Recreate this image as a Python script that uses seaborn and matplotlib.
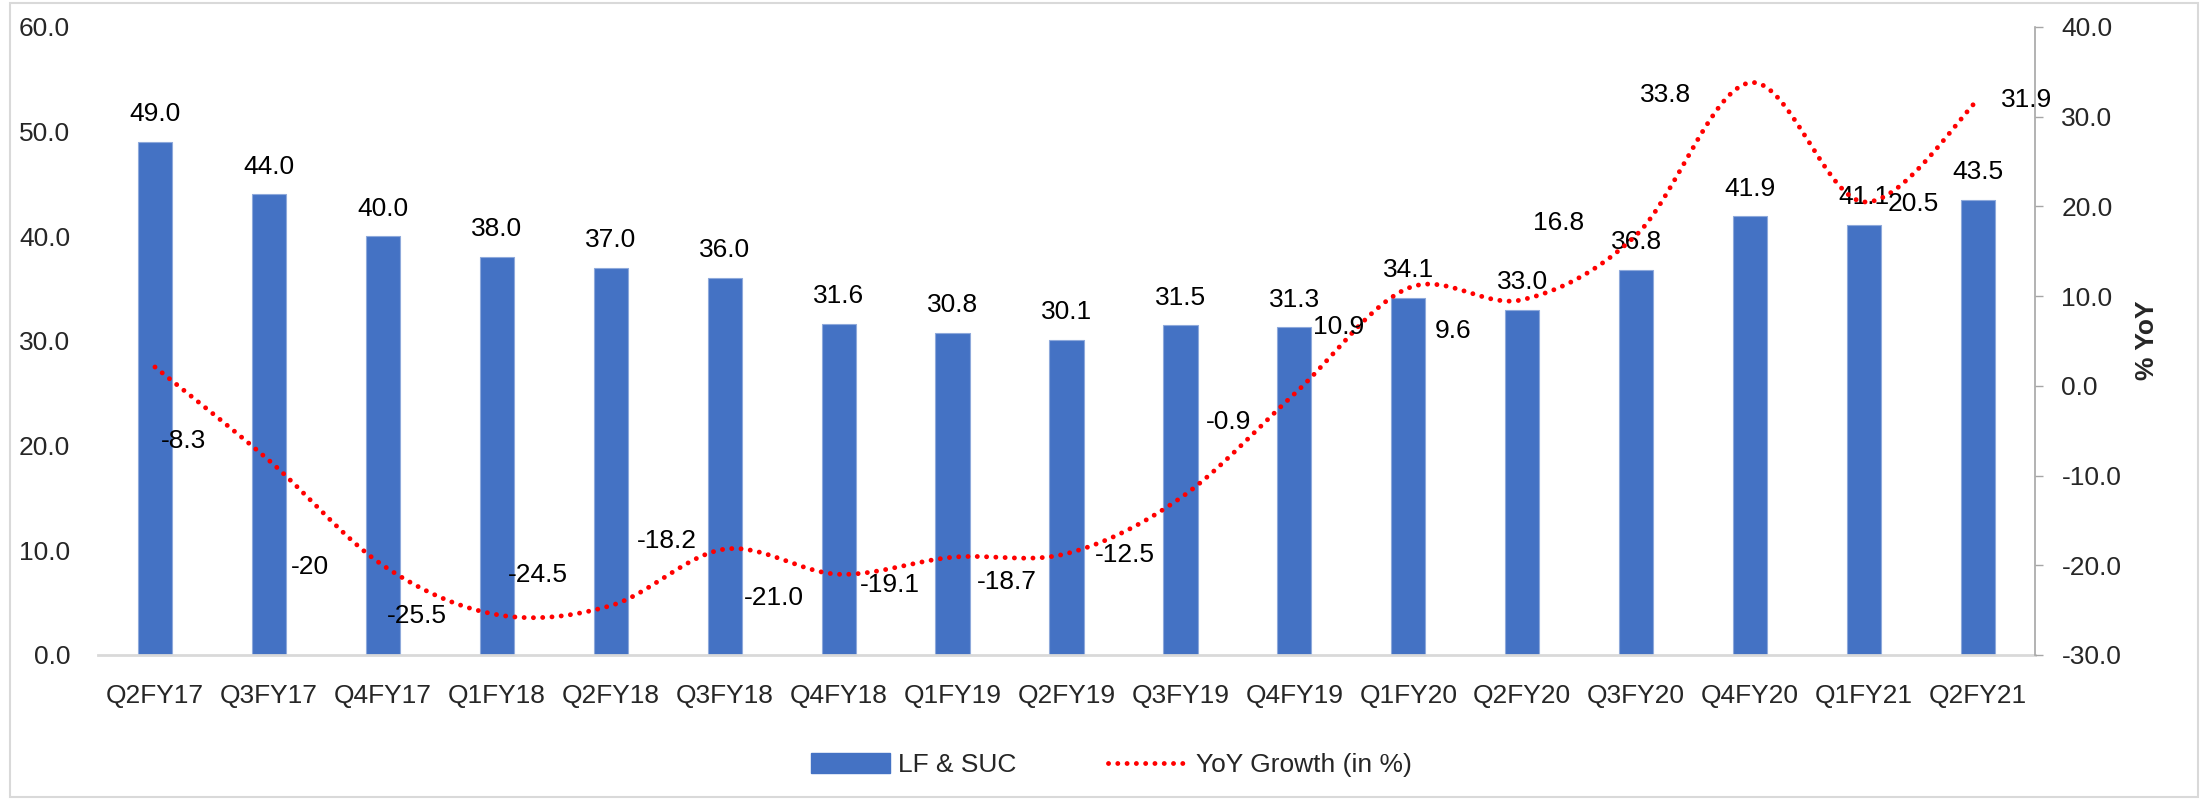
import numpy as np
import pandas as pd
import matplotlib
matplotlib.use("Agg")
import matplotlib.pyplot as plt
import seaborn as sns
from matplotlib.lines import Line2D
from matplotlib.patches import Patch, Rectangle

# ---- data ----
quarters = ["Q2FY17", "Q3FY17", "Q4FY17", "Q1FY18", "Q2FY18", "Q3FY18", "Q4FY18",
            "Q1FY19", "Q2FY19", "Q3FY19", "Q4FY19", "Q1FY20", "Q2FY20", "Q3FY20",
            "Q4FY20", "Q1FY21", "Q2FY21"]
lf_suc = [49.0, 44.0, 40.0, 38.0, 37.0, 36.0, 31.6, 30.8, 30.1, 31.5, 31.3,
          34.1, 33.0, 36.8, 41.9, 41.1, 43.5]
yoy = [2.1, -8.3, -20.0, -25.5, -24.5, -18.2, -21.0, -19.1, -18.7, -12.5, -0.9,
       10.9, 9.6, 16.8, 33.8, 20.5, 31.9]
yoy_labels = [None, "-8.3", "-20", "-25.5", "-24.5", "-18.2", "-21.0", "-19.1",
              "-18.7", "-12.5", "-0.9", "10.9", "9.6", "16.8", "33.8", "20.5", "31.9"]
left_ticks = [0, 10, 20, 30, 40, 50, 60]
right_ticks = [-30, -20, -10, 0, 10, 20, 30, 40]

# label placement offsets (category units, % units) relative to each point
label_offsets = [(0, 0), (-0.75, 2.1), (-0.64, -0.2), (-0.70, -0.2), (-0.64, 3.4),
                 (-0.51, 0.9), (-0.57, -2.6), (-0.55, -3.1), (-0.52, -3.2),
                 (-0.49, -6.3), (-0.58, -3.1), (-0.61, -4.3), (-0.61, -3.5),
                 (-0.68, 1.4), (-0.74, -1.4), (0.43, -0.2), (0.43, 0.0)]

BAR = "#4472C4"
RED = "#FF0000"

sns.set_style("white")
plt.rcParams["font.family"] = ["Liberation Sans Narrow", "Liberation Sans", "DejaVu Sans"]
FS = 19

fig = plt.figure(figsize=(22.08, 7.99), dpi=100)
ax = fig.add_axes([98 / 2208, 1 - 655 / 799, (2035 - 98) / 2208, (655 - 27) / 799])

df = pd.DataFrame({"q": quarters, "v": lf_suc})
sns.barplot(data=df, x="q", y="v", color=BAR, saturation=1, width=0.3, ax=ax,
            edgecolor="#8EA9DB", linewidth=0.8)
ax.set_xlim(-0.5, len(quarters) - 0.5)
ax.set_ylim(0, 60)
ax.set_yticks(left_ticks)
ax.set_yticklabels([f"{t:.1f}" for t in left_ticks])
ax.set_xlabel("")
ax.set_ylabel("")
ax.tick_params(axis="x", length=0, pad=21, labelsize=FS)
ax.tick_params(axis="y", length=0, pad=20, labelsize=FS)
for s in ["top", "left", "right"]:
    ax.spines[s].set_visible(False)
ax.spines["bottom"].set_color("#D9D9D9")
ax.spines["bottom"].set_linewidth(2)

for i, v in enumerate(lf_suc):
    ax.annotate(f"{v:.1f}", (i, v), xytext=(0, 20), textcoords="offset points",
                ha="center", va="center", fontsize=FS, color="black")

# ---- secondary axis with smoothed dotted line ----
ax2 = ax.twinx()
ax2.set_ylim(-30, 40)
ax2.set_yticks(right_ticks)
ax2.set_yticklabels([f"{t:.1f}" for t in right_ticks])
ax2.tick_params(axis="y", length=6, width=1, color="#A6A6A6", pad=13, labelsize=FS)
for s in ["top", "left", "bottom"]:
    ax2.spines[s].set_visible(False)
ax2.spines["right"].set_color("#A6A6A6")
ax2.spines["right"].set_linewidth(1.2)


def smooth(xs, ys, n=40):
    xs = np.asarray(xs, float)
    ys = np.asarray(ys, float)
    P = np.column_stack([xs, ys])
    P = np.vstack([P[0], P, P[-1]])
    out = []
    for k in range(1, len(P) - 2):
        p0, p1, p2, p3 = P[k - 1], P[k], P[k + 1], P[k + 2]
        c1 = p1 + (p2 - p0) / 6
        c2 = p2 - (p3 - p1) / 6
        t = np.linspace(0, 1, n, endpoint=(k == len(P) - 3))[:, None]
        seg = (1 - t) ** 3 * p1 + 3 * (1 - t) ** 2 * t * c1 + 3 * (1 - t) * t ** 2 * c2 + t ** 3 * p2
        out.append(seg)
    out = np.vstack(out)
    return out[:, 0], out[:, 1]


sx, sy = smooth(range(len(yoy)), yoy)
ax2.plot(sx, sy, color=RED, lw=3.5, linestyle=(0, (0.01, 1.9)),
         dash_capstyle="round", solid_capstyle="round")
ax2.set_xlim(-0.5, len(quarters) - 0.5)

for i, (v, lab) in enumerate(zip(yoy, yoy_labels)):
    if lab is None:
        continue
    dx, dy = label_offsets[i]
    ax2.text(i + dx, v + dy, lab, ha="center", va="center", fontsize=FS, color="black")

fig.text(2147 / 2208, 1 - 340 / 799, "% YoY", rotation=90, ha="center", va="center",
         fontsize=FS, fontweight="bold")

handles = [Patch(facecolor=BAR, edgecolor=BAR),
           Line2D([0], [0], color=RED, lw=3.5, linestyle=(0, (0.01, 1.9)),
                  dash_capstyle="round")]
fig.legend(handles, ["LF & SUC", "YoY Growth (in %)"], loc="center",
           bbox_to_anchor=(1111 / 2208, 1 - 765 / 799), ncol=2, frameon=False,
           fontsize=FS, handlelength=3.0, handleheight=0.8, handletextpad=0.3,
           columnspacing=3.5)

fig.patches.append(Rectangle((10 / 2208, 2 / 799), 2188 / 2208, 794 / 799,
                             transform=fig.transFigure, fill=False,
                             edgecolor="#D9D9D9", lw=1.5))

fig.savefig("out.png", dpi=100, facecolor="white")
